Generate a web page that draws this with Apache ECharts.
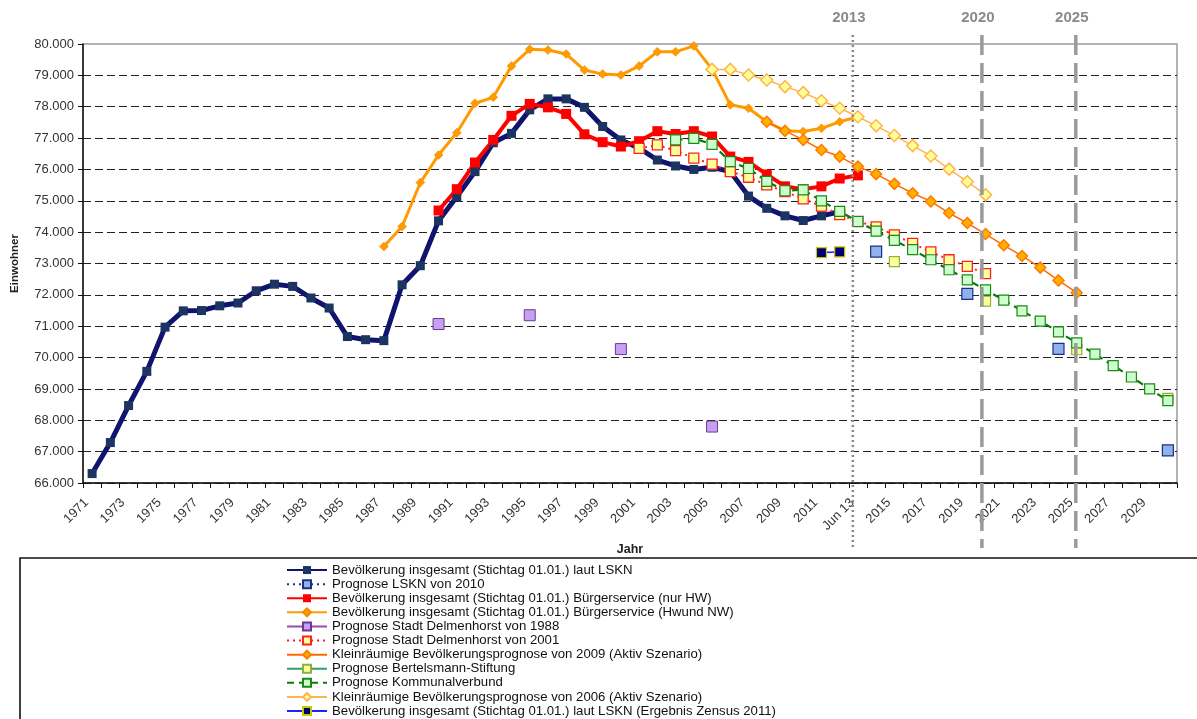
<!DOCTYPE html>
<html>
<head>
<meta charset="utf-8">
<script src="https://cdn.jsdelivr.net/npm/echarts@6/dist/echarts.min.js"></script>
<style>
html,body{margin:0;padding:0;background:#fff;}
#chart{width:1197px;height:719px;}
</style>
</head>
<body>
<div id="chart"></div>
<script>
// ---------- categories / tick labels ----------
const categories = ['1971','1972','1973','1974','1975','1976','1977','1978','1979','1980',
  '1981','1982','1983','1984','1985','1986','1987','1988','1989','1990',
  '1991','1992','1993','1994','1995','1996','1997','1998','1999','2000',
  '2001','2002','2003','2004','2005','2006','2007','2008','2009','2010',
  '2011','2012','Jun 13','2014','2015','2016','2017','2018','2019','2020',
  '2021','2022','2023','2024','2025','2026','2027','2028','2029','2030'];
const yTicks = [66000, 80000, 1000]; // min, max, step

// ---------- series values (start index = position in categories) ----------
const lsknStart = '1971';
const lsknValues = [66300,67290,68470,69560,70970,71490,71500,71650,71740,72130,
  72340,72270,71900,71580,70670,70570,70540,72320,72930,74360,
  75130,75930,76850,77150,77900,78250,78250,77980,77370,76940,
  76680,76300,76110,76000,76070,75930,75150,74760,74520,74370,
  74520,74650];

const lskn2010Points = [['2014',73380],['2019',72030],['2024',70280],['2030',67040]];

const hwStart = '1990';
const hwValues = [74690,75370,76220,76940,77710,78090,77980,77770,77120,76870,
  76730,76900,77220,77130,77220,77050,76410,76240,75840,75460,
  75370,75460,75710,75810];

const hwnwStart = '1987';
const hwnwValues = [73540,74180,75580,76460,77170,78110,78300,79300,79830,79810,
  79680,79170,79040,79010,79300,79750,79750,79940,79200,78060,
  77950,77520,77230,77210,77310,77520,77680];

const delm1988Points = [['1990',71070],['1995',71350],['2000',70270],['2005',67800]];

const delm2001Start = '2001';
const delm2001Values = [76670,76780,76600,76360,76170,75930,75750,75510,75290,75060,
  74830,74560,74340,74170,73910,73640,73370,73120,72910,72680];

const klein2009Start = '2008';
const klein2009Values = [77520,77230,76940,76620,76410,76090,75850,75540,75240,74980,
  74610,74290,73940,73580,73240,72870,72460,72070];

const bertelsmannPoints = [['2015',73060],['2020',71800],['2025',70250],['2030',68700]];

const kvStart = '2003';
const kvValues = [76940,76990,76800,76250,76030,75620,75320,75350,75000,74660,
  74340,74030,73740,73440,73120,72800,72480,72160,71830,71490,
  71160,70820,70470,70110,69740,69380,69000,68630];

const klein2006Start = '2005';
const klein2006Values = [79190,79190,79010,78850,78640,78450,78190,77950,77680,77390,
  77080,76760,76430,76010,75610,75190];

const zensusPoints = [['2011',73350],['2012',73370]];

// reference lines: label and position in category units (index of 1971 = 0)
const refLines = [
  {label:'2013', at:41.72, style:'dotted'},
  {label:'2020', at:48.8, style:'dashed'},
  {label:'2025', at:53.95, style:'dashed'}
];

// ---------- helpers ----------
function fromRun(start, vals){
  const arr = categories.map(()=>null);
  const i0 = categories.indexOf(start);
  vals.forEach((v,k)=>{ arr[i0+k] = v; });
  return arr;
}
function fromPoints(pts){
  const arr = categories.map(()=>null);
  pts.forEach(([c,v])=>{ arr[categories.indexOf(c)] = v; });
  return arr;
}
function fmt(v){
  const t = Math.floor(v/1000), r = String(v%1000).padStart(3,'0');
  return t + '.' + r;
}

const FONT = "'Liberation Sans', Arial, sans-serif";

function mk(name, data, o){
  return Object.assign({
    type:'line', name:name, data:data, showAllSymbol:true, connectNulls:false,
    animation:false, emphasis:{disabled:true}
  }, o);
}

const series = [
  mk('Bevölkerung insgesamt (Stichtag 01.01.) laut LSKN', fromRun(lsknStart, lsknValues), {
    symbol:'rect', symbolSize:9,
    lineStyle:{color:'#10146e', width:5},
    itemStyle:{color:'#1c3461', borderColor:'#1c3461', borderWidth:0}
  }),
  mk('Prognose LSKN von 2010', fromPoints(lskn2010Points), {
    symbol:'rect', symbolSize:11,
    lineStyle:{color:'#1f2f8f', width:1.5, type:[2,4]},
    itemStyle:{color:'#8fb2ee', borderColor:'#1f2f7f', borderWidth:1.2}
  }),
  mk('Bevölkerung insgesamt (Stichtag 01.01.) Bürgerservice (nur HW)', fromRun(hwStart, hwValues), {
    symbol:'rect', symbolSize:10,
    lineStyle:{color:'#ff0000', width:4},
    itemStyle:{color:'#ff0000', borderColor:'#ff0000', borderWidth:0}
  }),
  mk('Bevölkerung insgesamt (Stichtag 01.01.) Bürgerservice (Hwund NW)', fromRun(hwnwStart, hwnwValues), {
    symbol:'diamond', symbolSize:9,
    lineStyle:{color:'#ff9a00', width:3},
    itemStyle:{color:'#ff9a00', borderColor:'#f08a00', borderWidth:0.5}
  }),
  mk('Prognose Stadt Delmenhorst von 1988', fromPoints(delm1988Points), {
    symbol:'rect', symbolSize:11,
    lineStyle:{color:'#9a4ab0', width:1.2},
    itemStyle:{color:'#c7a0f5', borderColor:'#6b3a8a', borderWidth:1}
  }),
  mk('Prognose Stadt Delmenhorst von 2001', fromRun(delm2001Start, delm2001Values), {
    symbol:'rect', symbolSize:10,
    lineStyle:{color:'#ff2020', width:2, type:[2,4]},
    itemStyle:{color:'#ffff99', borderColor:'#ff2020', borderWidth:1.3}
  }),
  mk('Kleinräumige Bevölkerungsprognose von 2009 (Aktiv Szenario)', fromRun(klein2009Start, klein2009Values), {
    symbol:'diamond', symbolSize:11,
    lineStyle:{color:'#ff6a00', width:1.5},
    itemStyle:{color:'#ffb000', borderColor:'#ff7a00', borderWidth:1.5}
  }),
  mk('Prognose Bertelsmann-Stiftung', fromPoints(bertelsmannPoints), {
    symbol:'rect', symbolSize:10,
    lineStyle:{color:'#33a060', width:1},
    itemStyle:{color:'#ffff99', borderColor:'#8fb040', borderWidth:1.2}
  }),
  mk('Prognose Kommunalverbund', fromRun(kvStart, kvValues), {
    symbol:'rect', symbolSize:10,
    lineStyle:{color:'#0a7a0a', width:2.2, type:[7,5]},
    itemStyle:{color:'#ccffcc', borderColor:'#1a8a1a', borderWidth:1.2}
  }),
  mk('Kleinräumige Bevölkerungsprognose von 2006 (Aktiv Szenario)', fromRun(klein2006Start, klein2006Values), {
    symbol:'diamond', symbolSize:12,
    lineStyle:{color:'#ffb54d', width:1.5},
    itemStyle:{color:'#ffff99', borderColor:'#ffb54d', borderWidth:1.5}
  }),
  mk('Bevölkerung insgesamt (Stichtag 01.01.) laut LSKN (Ergebnis Zensus 2011)', fromPoints(zensusPoints), {
    symbol:'rect', symbolSize:10,
    lineStyle:{color:'#2020ff', width:1.5},
    itemStyle:{color:'#000070', borderColor:'#c8c800', borderWidth:1.2}
  })
];

// split-line colours: hide the top (80.000) line so the grey frame shows
const nLines = (yTicks[1]-yTicks[0])/yTicks[2] + 1;
const splitColors = [];
for (let i=0;i<nLines;i++) splitColors.push(i===nLines-1 ? 'rgba(0,0,0,0)' : '#222');

const chart = echarts.init(document.getElementById('chart'), null, {renderer:'canvas'});
const option = {
  backgroundColor:'#ffffff',
  animation:false,
  grid:{left:83, right:20, top:44, bottom:236, show:true, borderColor:'#9a9a9a', borderWidth:1.5, backgroundColor:'#fff'},
  legend:{
    orient:'vertical', left:286, top:563, height:200, padding:0, selectedMode:false,
    itemWidth:40, itemHeight:10, itemGap:0,
    textStyle:{fontFamily:FONT, fontSize:13.2, color:'#111', lineHeight:14.1},
    data: series.map(s=>s.name)
  },
  xAxis:[{
    type:'category', data:categories, boundaryGap:true,
    axisLine:{lineStyle:{color:'#111', width:1.5}},
    axisTick:{show:true, interval:0, length:5, lineStyle:{color:'#111'}},
    axisLabel:{interval:1, rotate:45, fontFamily:FONT, fontSize:13, color:'#333', margin:12, padding:[0,8,0,0]},
    splitLine:{show:false},
    name:'Jahr', nameLocation:'middle', nameGap:60,
    nameTextStyle:{fontFamily:FONT, fontWeight:'bold', fontSize:12.5, color:'#222'}
  }],
  yAxis:[{
    type:'value', min:yTicks[0], max:yTicks[1], interval:yTicks[2],
    axisLine:{show:true, lineStyle:{color:'#111', width:1.5}},
    axisTick:{show:true, length:5, lineStyle:{color:'#111'}},
    axisLabel:{formatter:fmt, fontFamily:FONT, fontSize:13, color:'#333', margin:9},
    splitLine:{show:true, lineStyle:{color:splitColors, type:[8,4], width:1.2}},
    name:'Einwohner', nameLocation:'middle', nameGap:62, nameRotate:90,
    nameTextStyle:{fontFamily:FONT, fontWeight:'bold', fontSize:11.5, color:'#222'}
  }],
  series: series
};
chart.setOption(option);

// reference lines placed through the category axis scale
const p0 = chart.convertToPixel({xAxisIndex:0}, categories[0]);
const p1 = chart.convertToPixel({xAxisIndex:0}, categories[1]);
const band = p1 - p0;
const graphics = [
  {type:'rect', z:0, shape:{x:20, y:558, width:1200, height:200},
   style:{fill:null, stroke:'#111', lineWidth:1.6}}
];
refLines.forEach(r=>{
  const x = p0 + r.at*band;
  graphics.push({type:'line', z:50, shape:{x1:x, y1:35, x2:x, y2:548},
    style:{stroke: r.style==='dotted' ? '#8a8a8a' : '#9a9a9a',
           lineWidth: r.style==='dotted' ? 2.5 : 3.5,
           lineDash: r.style==='dotted' ? [2,3] : [20,8]}});
  graphics.push({type:'text', z:50, x:x-4, y:18,
    style:{text:r.label, fontFamily:FONT, fontWeight:'bold', fontSize:15, fill:'#8a8a8a',
           align:'center', verticalAlign:'middle'}});
});
chart.setOption({graphic:graphics});
</script>
</body>
</html>
